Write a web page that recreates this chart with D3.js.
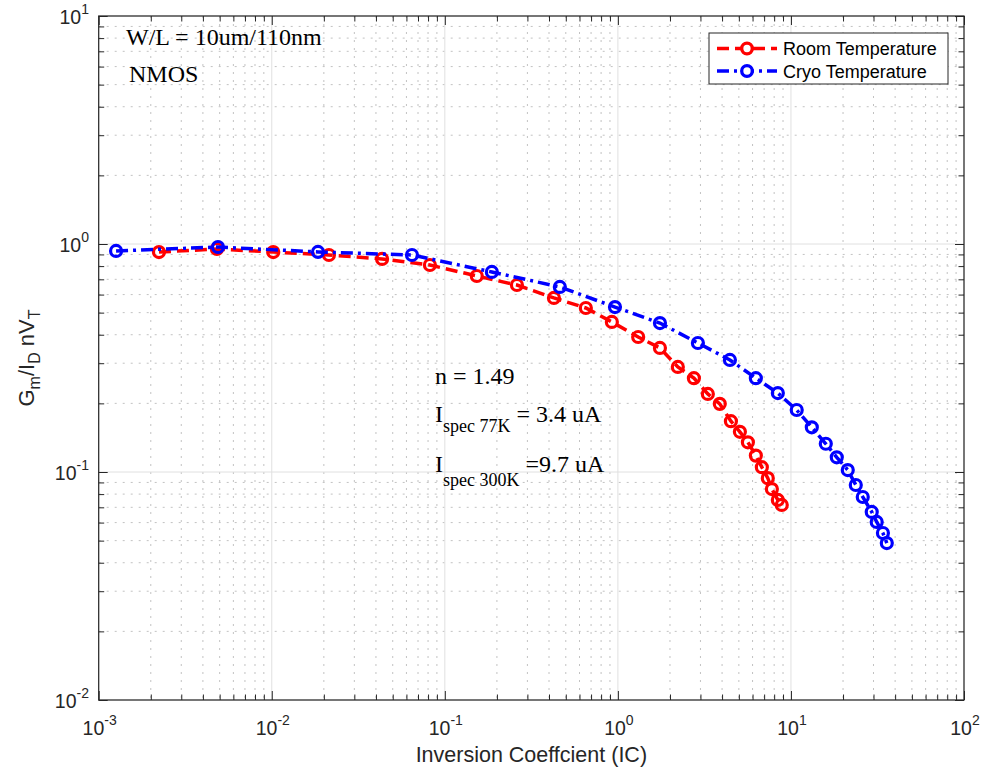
<!DOCTYPE html>
<html>
<head>
<meta charset="utf-8">
<script src="https://cdn.jsdelivr.net/npm/d3@7"></script>
<style>
  html, body { margin: 0; padding: 0; background: #fff; }
  svg { display: block; }
</style>
</head>
<body>
<svg id="chart" width="982" height="769"></svg>
<script>
// ---- Data ----
const roomIC = [0.00223, 0.00482, 0.0102, 0.0214, 0.0434, 0.082, 0.153, 0.261, 0.427, 0.653, 0.923, 1.31, 1.75, 2.22, 2.75, 3.31, 3.88, 4.50, 5.07, 5.64, 6.27, 6.79, 7.35, 7.76, 8.40, 8.85];
const roomGm = [0.922, 0.951, 0.922, 0.895, 0.860, 0.809, 0.724, 0.661, 0.580, 0.524, 0.455, 0.391, 0.350, 0.289, 0.258, 0.220, 0.199, 0.167, 0.150, 0.135, 0.118, 0.105, 0.094, 0.0842, 0.0754, 0.0717];
const cryoIC = [0.00126, 0.00489, 0.0185, 0.0646, 0.187, 0.462, 0.962, 1.75, 2.90, 4.44, 6.27, 8.40, 10.8, 13.2, 15.9, 18.4, 21.3, 23.7, 26.0, 29.3, 31.3, 34.0, 35.8];
const cryoGm = [0.932, 0.970, 0.923, 0.895, 0.754, 0.648, 0.529, 0.450, 0.368, 0.310, 0.258, 0.222, 0.187, 0.157, 0.133, 0.116, 0.102, 0.0877, 0.0777, 0.0668, 0.0604, 0.054, 0.0488];
const xTickExps = [-3, -2, -1, 0, 1, 2];
const yTickExps = [-2, -1, 0, 1];
const seriesNames = ["Room Temperature", "Cryo Temperature"];

// ---- Layout ----
const L = 98.7, R = 964, T = 16, B = 700;
const svg = d3.select("#chart");
const x = d3.scaleLog().domain([1e-3, 1e2]).range([L, R]);
const y = d3.scaleLog().domain([1e-2, 1e1]).range([B, T]);

const majorX = xTickExps.map(e => Math.pow(10, e));
const majorY = yTickExps.map(e => Math.pow(10, e));
const minorX = [], minorY = [];
xTickExps.slice(0, -1).forEach(e => { for (let k = 2; k <= 9; k++) minorX.push(k * Math.pow(10, e)); });
yTickExps.slice(0, -1).forEach(e => { for (let k = 2; k <= 9; k++) minorY.push(k * Math.pow(10, e)); });

// ---- Grid ----
const grid = svg.append("g");
grid.selectAll(".mgx").data(minorX).join("line")
  .attr("x1", d => x(d)).attr("x2", d => x(d)).attr("y1", T).attr("y2", B)
  .attr("stroke", "#c2c2c2").attr("stroke-width", 1).attr("stroke-dasharray", "2,6");
grid.selectAll(".mgy").data(minorY).join("line")
  .attr("y1", d => y(d)).attr("y2", d => y(d)).attr("x1", L).attr("x2", R)
  .attr("stroke", "#c2c2c2").attr("stroke-width", 1).attr("stroke-dasharray", "2,6");
grid.selectAll(".Mgx").data(majorX).join("line")
  .attr("x1", d => x(d)).attr("x2", d => x(d)).attr("y1", T).attr("y2", B)
  .attr("stroke", "#e0e0e0").attr("stroke-width", 1);
grid.selectAll(".Mgy").data(majorY).join("line")
  .attr("y1", d => y(d)).attr("y2", d => y(d)).attr("x1", L).attr("x2", R)
  .attr("stroke", "#e0e0e0").attr("stroke-width", 1);

// ---- Axes (ticks inward on all sides) ----
function styleAxis(g) {
  g.select(".domain").remove();
  g.selectAll(".tick line").attr("stroke", "#262626").attr("stroke-width", 1);
  g.selectAll(".tick text").remove();
}
const MAJ = 9, MIN = 5.5;
[[d3.axisBottom, B, majorX, MAJ], [d3.axisBottom, B, minorX, MIN], [d3.axisTop, T, majorX, MAJ], [d3.axisTop, T, minorX, MIN]]
  .forEach(([fn, pos, vals, len]) => {
    svg.append("g").attr("transform", `translate(0,${pos})`)
      .call(fn(x).tickValues(vals).tickSize(-len).tickFormat(""))
      .call(styleAxis);
  });
[[d3.axisLeft, L, majorY, MAJ], [d3.axisLeft, L, minorY, MIN], [d3.axisRight, R, majorY, MAJ], [d3.axisRight, R, minorY, MIN]]
  .forEach(([fn, pos, vals, len]) => {
    svg.append("g").attr("transform", `translate(${pos},0)`)
      .call(fn(y).tickValues(vals).tickSize(-len).tickFormat(""))
      .call(styleAxis);
  });
svg.append("rect").attr("x", L).attr("y", T).attr("width", R - L).attr("height", B - T)
  .attr("fill", "none").attr("stroke", "#262626").attr("stroke-width", 1.2);

// ---- Tick labels ----
const sans = "'Liberation Sans', Arial, Helvetica, sans-serif";
xTickExps.forEach(e => {
  const t = svg.append("text").attr("x", x(Math.pow(10, e)) + 1).attr("y", 735)
    .attr("text-anchor", "middle").attr("font-family", sans).attr("font-size", 19.5).attr("fill", "#262626");
  t.append("tspan").text("10");
  t.append("tspan").attr("dy", -10).attr("font-size", 14).text(e < 0 ? "-" + (-e) : String(e));
});
yTickExps.forEach(e => {
  const t = svg.append("text").attr("x", 89).attr("y", y(Math.pow(10, e)) + 8)
    .attr("text-anchor", "end").attr("font-family", sans).attr("font-size", 19.5).attr("fill", "#262626");
  t.append("tspan").text("10");
  t.append("tspan").attr("dy", -10).attr("font-size", 14).text(e < 0 ? "-" + (-e) : String(e));
});

// ---- Axis titles ----
svg.append("text").attr("x", (L + R) / 2).attr("y", 762).attr("text-anchor", "middle")
  .attr("font-family", sans).attr("font-size", 21.5).attr("fill", "#262626")
  .text("Inversion Coeffcient (IC)");
const yt = svg.append("text").attr("transform", `translate(34,${(T + B) / 2}) rotate(-90)`)
  .attr("text-anchor", "middle").attr("font-family", sans).attr("font-size", 22).attr("fill", "#262626");
yt.append("tspan").text("G");
yt.append("tspan").attr("dy", 6).attr("font-size", 16).text("m");
yt.append("tspan").attr("dy", -6).text("/I");
yt.append("tspan").attr("dy", 6).attr("font-size", 16).text("D");
yt.append("tspan").attr("dy", -6).text(" nV");
yt.append("tspan").attr("dy", 6).attr("font-size", 16).text("T");

// ---- Series ----
const series = [
  { name: seriesNames[0], xs: roomIC, ys: roomGm, color: "#ff0000", dash: "12,6" },
  { name: seriesNames[1], xs: cryoIC, ys: cryoGm, color: "#0000ff", dash: "12,5,3,5" }
];
const line = d3.line().x(d => x(d[0])).y(d => y(d[1]));
series.forEach(s => {
  const pts = s.xs.map((v, i) => [v, s.ys[i]]);
  svg.append("path").datum(pts).attr("d", line).attr("fill", "none")
    .attr("stroke", s.color).attr("stroke-width", 3.5).attr("stroke-dasharray", s.dash);
  svg.append("g").selectAll("circle").data(pts).join("circle")
    .attr("cx", d => x(d[0])).attr("cy", d => y(d[1])).attr("r", 5.5)
    .attr("fill", "none").attr("stroke", s.color).attr("stroke-width", 3.2);
});

// ---- Legend ----
const lg = svg.append("g");
lg.append("rect").attr("x", 709).attr("y", 33).attr("width", 239).attr("height", 51)
  .attr("fill", "#fff").attr("stroke", "#262626").attr("stroke-width", 1);
series.forEach((s, i) => {
  const ly = 48.5 + i * 22.5;
  lg.append("line").attr("x1", 717).attr("x2", 777).attr("y1", ly).attr("y2", ly)
    .attr("stroke", s.color).attr("stroke-width", 3.5).attr("stroke-dasharray", s.dash);
  lg.append("circle").attr("cx", 747).attr("cy", ly).attr("r", 5.3)
    .attr("fill", "#fff").attr("stroke", s.color).attr("stroke-width", 3.3);
  lg.append("text").attr("x", 783).attr("y", ly + 6.5).attr("font-family", sans)
    .attr("font-size", 18).attr("fill", "#000").text(s.name);
});

// ---- Annotations ----
const serif = "'Liberation Serif', 'Times New Roman', Times, serif";
function ann(xp, yp, parts) {
  const t = svg.append("text").attr("x", xp).attr("y", yp).attr("font-family", serif)
    .attr("font-size", 24).attr("fill", "#000");
  parts.forEach(p => {
    const sp = t.append("tspan").text(p.t);
    if (p.dy) sp.attr("dy", p.dy);
    if (p.fs) sp.attr("font-size", p.fs);
  });
}
ann(126, 45, [{ t: "W/L = 10um/110nm" }]);
ann(129, 82, [{ t: "NMOS" }]);
ann(435, 384, [{ t: "n = 1.49" }]);
ann(435, 422, [{ t: "I" }, { t: "spec 77K", dy: 10, fs: 18 }, { t: " = 3.4 uA", dy: -10 }]);
ann(435, 472, [{ t: "I" }, { t: "spec 300K", dy: 14, fs: 18 }, { t: " =9.7 uA", dy: -14 }]);
</script>
</body>
</html>
